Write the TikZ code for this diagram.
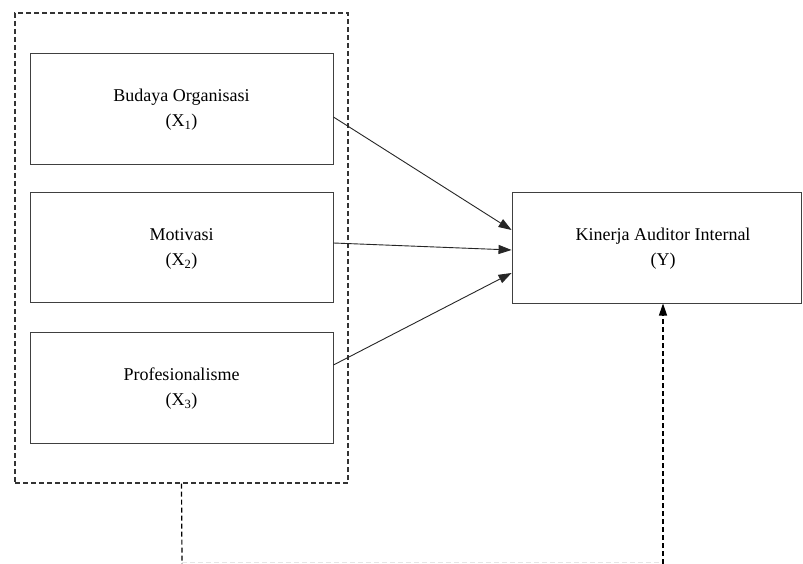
\documentclass[tikz,border=0pt]{standalone}
\usepackage{fontspec}
\setmainfont{Liberation Serif}
\usetikzlibrary{arrows.meta,calc}
\begin{document}
\begin{tikzpicture}[x=1pt,y=-1pt,
  varbox/.style={draw=black!75,line width=0.9pt,rectangle,minimum width=303pt,minimum height=111pt,inner sep=0pt},
  lbl/.style={align=center,font=\fontsize{18pt}{25pt}\selectfont,inner sep=0pt},
  dashbox/.style={draw=black!80,line width=1.1pt,dash pattern=on 5pt off 3pt},
  dline/.style={draw=black,line width=1.2pt,dash pattern=on 5pt off 3pt},
  faint/.style={draw=black!10,line width=1pt,dash pattern=on 5pt off 3pt},
  arr/.style={draw=black!85,line width=0.9pt,-{Triangle[length=13pt,width=9pt]}}
]
\useasboundingbox (0,0) rectangle (803,564);
\fill[white] (0,0) rectangle (803,564);

\node[dashbox,rectangle,minimum width=333pt,minimum height=470pt,inner sep=0pt] (outer) at (181.5,248) {};

\node[varbox] (b1) at (181.5,108.5) {};
\node[lbl] (t1) at (181.5,110) {Budaya Organisasi\\(X\textsubscript{1})};
\node[varbox,minimum height=110pt] (b2) at (181.5,247) {};
\node[lbl] (t2) at (181.5,249) {Motivasi\\(X\textsubscript{2})};
\node[varbox] (b3) at (181.5,387.5) {};
\node[lbl] (t3) at (181.5,389) {Profesionalisme\\(X\textsubscript{3})};

\node[varbox,minimum width=289pt] (y) at (656.5,247.5) {};
\node[lbl] (ty) at (663,249) {Kinerja Auditor Internal\\(Y)};

\draw[arr] ($(b1.east)+(0,8.5)$) -- ($(y.west)+(0,-17.5)$);
\draw[arr] ($(b2.east)+(0,-4)$) -- ($(y.west)+(0,2.5)$);
\draw[arr] ($(b3.east)+(0,-22.5)$) -- ($(y.west)+(0,25.5)$);

\coordinate (c1) at (182,564);
\coordinate (c2) at (663,564);
\coordinate (cy) at (663,303.5);
\draw[faint] (182,562) -- (663,562);
\draw[dline] (outer.south) -- (c1);
\draw[dline,-{Triangle[length=12pt,width=8pt]}] (c2) -- (cy);
\end{tikzpicture}
\end{document}
